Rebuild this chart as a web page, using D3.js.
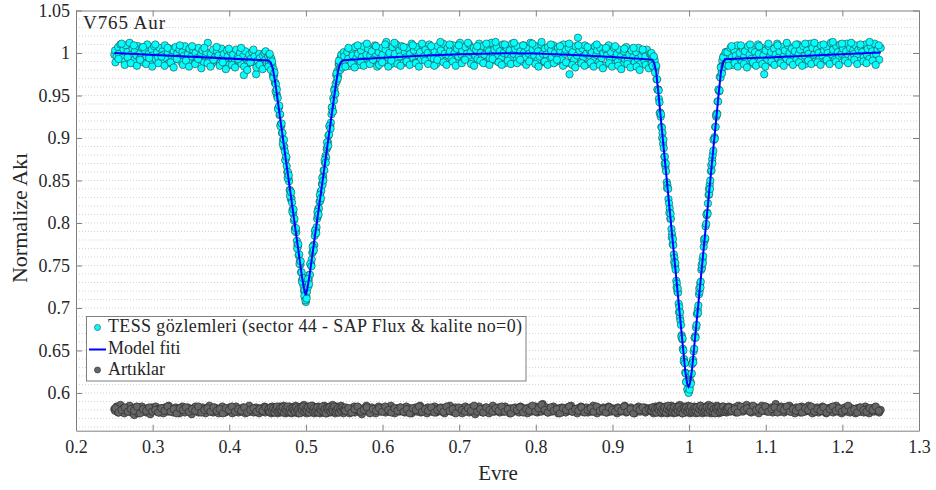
<!DOCTYPE html>
<html>
<head>
<meta charset="utf-8">
<script src="https://cdn.jsdelivr.net/npm/d3@7"></script>
<style>
  body { margin: 0; background: #fff; }
  text { font-family: "Liberation Serif", "Times New Roman", serif; fill: #262626; }
</style>
</head>
<body>
<svg id="chart" width="936" height="490"></svg>
<script>
// axis ticks
const xTicks = [0.2, 0.3, 0.4, 0.5, 0.6, 0.7, 0.8, 0.9, 1, 1.1, 1.2, 1.3];
const yTicks = [0.6, 0.65, 0.7, 0.75, 0.8, 0.85, 0.9, 0.95, 1, 1.05];

// model fit (phase, normalized flux)
const modelPhase = [0.25, 0.451, 0.454, 0.457, 0.46, 0.495, 0.4975, 0.4997, 0.5019, 0.5044, 0.5394, 0.5424, 0.5454, 0.5484,
  0.6, 0.65, 0.7, 0.76, 0.8, 0.85, 0.9, 0.952, 0.9545, 0.957, 0.96, 0.995, 0.9975, 0.9993, 1.0011, 1.0036, 1.0386, 1.0416, 1.0441, 1.0466, 1.25];
const modelFlux = [1.0, 0.9912, 0.989, 0.981, 0.965, 0.7361, 0.723, 0.715, 0.723, 0.7361, 0.965, 0.981, 0.989, 0.9915,
  0.9945, 0.9968, 0.9985, 0.9996, 0.9995, 0.9976, 0.9952, 0.9922, 0.988, 0.978, 0.9523, 0.6257, 0.611, 0.6074, 0.611, 0.6257, 0.9523, 0.978, 0.988, 0.9926, 1.0005];

// TESS points: [phase, flux, residual shifted to 0.58]
const outA = [
[0.250,0.998,0.581],[0.251,1.003,0.579],[0.253,0.996,0.584],[0.255,1.007,0.577],[0.256,0.999,0.580],[0.258,1.010,0.586],[0.260,0.994,0.578],[0.262,1.004,0.582],[0.263,0.990,0.576],[0.265,1.009,0.580],
[0.267,1.001,0.583],[0.269,0.995,0.579],[0.270,1.012,0.585],[0.272,0.998,0.577],[0.274,1.005,0.581],[0.276,0.992,0.574],[0.277,1.002,0.583],[0.279,0.997,0.580],[0.281,1.008,0.576],[0.283,0.993,0.582],
[0.284,1.000,0.579],[0.286,1.006,0.584],[0.288,0.989,0.578],[0.290,1.003,0.580],[0.292,0.996,0.577],[0.293,1.010,0.582],[0.295,0.999,0.581],[0.297,0.991,0.575],[0.299,1.004,0.583],[0.300,0.997,0.579],
[0.302,1.008,0.580],[0.304,0.993,0.584],[0.306,1.001,0.578],[0.307,0.995,0.581],[0.309,1.006,0.577],[0.311,0.990,0.582],[0.313,1.002,0.579],[0.314,0.998,0.576],[0.316,1.009,0.583],[0.318,0.994,0.580],
[0.320,1.000,0.578],[0.321,0.988,0.585],[0.323,1.005,0.579],[0.325,0.996,0.581],[0.327,1.003,0.577],[0.328,0.992,0.580],[0.330,1.007,0.583],[0.332,0.999,0.578],[0.334,0.994,0.582],[0.335,1.004,0.576],
[0.337,0.990,0.580],[0.339,1.001,0.584],[0.341,0.997,0.579],[0.342,1.008,0.577],[0.344,0.993,0.581],[0.346,0.999,0.583],[0.348,1.005,0.578],[0.349,0.991,0.580],[0.351,0.996,0.575],[0.353,1.003,0.582],
[0.355,0.988,0.579],[0.356,1.000,0.584],[0.358,0.994,0.580],[0.360,1.006,0.577],[0.362,0.992,0.581],[0.363,0.998,0.578],[0.365,1.003,0.583],[0.367,0.989,0.579],[0.369,0.996,0.576],[0.370,1.001,0.582],
[0.372,1.012,0.580],[0.374,0.993,0.585],[0.376,0.999,0.578],[0.377,0.987,0.581],[0.379,1.004,0.577],[0.381,0.995,0.583],[0.383,0.991,0.579],[0.384,1.002,0.580],[0.386,0.997,0.576],[0.388,0.988,0.582],
[0.390,1.005,0.578],[0.391,0.994,0.584],[0.393,0.999,0.580],[0.395,0.990,0.577],[0.397,1.003,0.581],[0.398,0.996,0.579],[0.400,0.986,0.583],[0.402,1.001,0.578],[0.404,0.993,0.576],[0.405,0.998,0.582],
[0.407,0.989,0.580],[0.409,1.004,0.584],[0.411,0.995,0.579],[0.412,0.991,0.577],[0.414,1.000,0.581],[0.416,0.987,0.578],[0.418,0.996,0.583],[0.419,0.974,0.580],[0.421,1.002,0.576],[0.423,0.992,0.582],
[0.425,0.988,0.579],[0.426,0.998,0.585],[0.428,0.993,0.578],[0.430,1.001,0.581],[0.432,0.989,0.577],[0.433,0.996,0.580],[0.435,0.975,0.583],[0.437,0.991,0.579],[0.439,0.999,0.576],[0.440,0.994,0.582],
[0.442,0.987,0.580],[0.444,0.997,0.578],[0.446,1.000,0.584],[0.447,0.992,0.577],[0.449,0.988,0.581],
[0.2515,0.989,0.582],[0.2555,0.993,0.577],[0.2595,1.011,0.580],[0.2635,0.986,0.583],[0.2675,0.995,0.578],[0.2715,0.988,0.581],[0.2755,1.009,0.579],[0.2795,0.985,0.584],[0.2835,0.992,0.576],[0.2875,1.007,0.581],
[0.2915,0.987,0.579],[0.2955,0.994,0.583],[0.2995,0.984,0.578],[0.3035,1.010,0.580],[0.3075,0.988,0.577],[0.3115,0.996,0.582],[0.3155,0.985,0.579],[0.3195,1.006,0.584],[0.3235,0.989,0.578],[0.3275,0.983,0.581],
[0.3315,0.993,0.576],[0.3355,1.009,0.582],[0.3395,0.986,0.580],[0.3435,0.991,0.583],[0.3475,0.984,0.578],[0.3515,1.008,0.581],[0.3555,0.987,0.579],[0.3595,0.993,0.584],[0.3635,0.982,0.577],[0.3675,1.006,0.580],
[0.3715,0.988,0.582],[0.3755,0.984,0.578],[0.3795,0.992,0.583],[0.3835,1.007,0.579],[0.3875,0.985,0.581],[0.3915,0.989,0.576],[0.3955,0.981,0.582],[0.3995,1.005,0.580],[0.4035,0.986,0.584],[0.4075,0.983,0.578],
[0.4115,0.993,0.581],[0.4155,1.006,0.579],[0.4195,0.984,0.583],[0.4235,0.980,0.577],[0.4275,0.989,0.580],[0.4315,1.004,0.582],[0.4355,0.983,0.578],[0.4395,0.986,0.581],[0.4435,0.981,0.579],[0.4475,1.002,0.583]];

const secondaryMin = [
[0.4508,0.996,0.579],[0.4516,0.988,0.582],[0.4523,0.998,0.578],[0.4531,0.984,0.583],[0.4540,0.991,0.580],[0.4547,0.994,0.576],[0.4555,0.981,0.581],[0.4563,0.986,0.584],[0.4570,0.974,0.579],[0.4578,0.981,0.577],
[0.4586,0.974,0.582],[0.4594,0.965,0.580],[0.4601,0.965,0.578],[0.4609,0.963,0.583],[0.4617,0.952,0.579],[0.4625,0.949,0.581],[0.4632,0.947,0.576],[0.4640,0.935,0.582],[0.4648,0.936,0.580],[0.4656,0.927,0.584],
[0.4664,0.928,0.578],[0.4671,0.916,0.581],[0.4679,0.914,0.577],[0.4687,0.906,0.583],[0.4695,0.906,0.580],[0.4702,0.898,0.579],[0.4710,0.889,0.585],[0.4718,0.890,0.578],[0.4726,0.884,0.581],[0.4734,0.874,0.576],
[0.4741,0.877,0.582],[0.4749,0.867,0.580],[0.4757,0.860,0.583],[0.4765,0.860,0.577],[0.4773,0.852,0.581],[0.4780,0.849,0.579],[0.4788,0.839,0.584],[0.4796,0.838,0.578],[0.4804,0.828,0.580],[0.4812,0.829,0.576],
[0.4819,0.824,0.582],[0.4827,0.816,0.579],[0.4835,0.811,0.583],[0.4843,0.803,0.580],[0.4851,0.805,0.577],[0.4858,0.794,0.581],[0.4866,0.792,0.585],[0.4874,0.789,0.578],[0.4882,0.779,0.582],[0.4890,0.774,0.579],
[0.4897,0.773,0.576],[0.4905,0.762,0.581],[0.4913,0.763,0.583],[0.4921,0.755,0.578],[0.4929,0.751,0.580],[0.4936,0.742,0.584],[0.4944,0.742,0.577],[0.4952,0.733,0.582],[0.4960,0.735,0.579],[0.4968,0.726,0.581],
[0.4975,0.720,0.586],[0.4983,0.721,0.578],[0.4991,0.712,0.583],[0.4999,0.707,0.580],[0.5006,0.714,0.576],[0.5014,0.719,0.582],[0.5022,0.728,0.579],[0.5030,0.725,0.584],[0.5037,0.733,0.578],[0.5045,0.739,0.581],
[0.5053,0.739,0.577],[0.5061,0.751,0.583],[0.5069,0.751,0.580],[0.5076,0.757,0.579],[0.5084,0.765,0.585],[0.5092,0.766,0.578],[0.5100,0.774,0.581],[0.5108,0.774,0.576],[0.5115,0.785,0.582],[0.5123,0.791,0.580],
[0.5131,0.792,0.583],[0.5139,0.795,0.577],[0.5147,0.805,0.581],[0.5154,0.808,0.579],[0.5162,0.817,0.584],[0.5170,0.817,0.578],[0.5178,0.825,0.580],[0.5186,0.826,0.576],[0.5193,0.837,0.582],[0.5201,0.838,0.579],
[0.5209,0.846,0.583],[0.5217,0.845,0.580],[0.5225,0.855,0.577],[0.5232,0.862,0.581],[0.5240,0.862,0.585],[0.5248,0.871,0.578],[0.5256,0.879,0.582],[0.5264,0.877,0.579],[0.5271,0.887,0.576],[0.5279,0.889,0.581],
[0.5287,0.895,0.583],[0.5295,0.903,0.578],[0.5303,0.904,0.580],[0.5310,0.914,0.584],[0.5318,0.914,0.577],[0.5326,0.918,0.582],[0.5334,0.928,0.579],[0.5342,0.936,0.581],[0.5349,0.932,0.586],[0.5357,0.947,0.578],
[0.5365,0.944,0.583],[0.5373,0.958,0.580],[0.5381,0.952,0.576],[0.5388,0.964,0.582],[0.5396,0.974,0.579],[0.5404,0.967,0.584],[0.5412,0.979,0.578],[0.5420,0.973,0.581],[0.5427,0.987,0.577],[0.5435,0.986,0.583],
[0.5443,0.982,0.580],[0.5451,0.994,0.579],[0.5459,0.986,0.585],[0.5466,0.997,0.578],[0.5474,0.986,0.582],[0.5482,0.995,0.579],[0.5490,0.990,0.576],
[0.4512,0.984,0.581],[0.4527,0.999,0.578],[0.4543,0.980,0.583],[0.4559,0.990,0.579],[0.4574,0.971,0.582],[0.4590,0.977,0.577],[0.4605,0.955,0.581],[0.4621,0.957,0.584],[0.4636,0.934,0.578],[0.4652,0.938,0.580],
[0.4667,0.914,0.582],[0.4683,0.917,0.579],[0.4698,0.893,0.583],[0.4714,0.898,0.577],[0.4730,0.874,0.581],[0.4745,0.878,0.579],[0.4761,0.853,0.584],[0.4777,0.856,0.578],[0.4792,0.832,0.581],[0.4808,0.836,0.577],
[0.4823,0.813,0.582],[0.4839,0.816,0.580],[0.4855,0.791,0.578],[0.4870,0.794,0.583],[0.4886,0.770,0.579],[0.4901,0.775,0.581],[0.4917,0.752,0.576],[0.4932,0.755,0.582],[0.4948,0.731,0.580],[0.4964,0.735,0.584],
[0.4979,0.714,0.578],[0.4995,0.709,0.581],[0.5010,0.711,0.579],[0.5026,0.734,0.583],[0.5041,0.728,0.577],[0.5057,0.752,0.581],[0.5073,0.749,0.585],[0.5088,0.772,0.579],[0.5104,0.768,0.582],[0.5119,0.791,0.578],
[0.5135,0.788,0.580],[0.5150,0.813,0.583],[0.5166,0.810,0.577],[0.5182,0.833,0.581],[0.5197,0.829,0.579],[0.5213,0.853,0.584],[0.5228,0.850,0.578],[0.5244,0.874,0.581],[0.5260,0.871,0.576],[0.5275,0.895,0.582],
[0.5291,0.891,0.580],[0.5306,0.914,0.583],[0.5322,0.911,0.578],[0.5338,0.936,0.581],[0.5353,0.931,0.579],[0.5369,0.956,0.584],[0.5384,0.952,0.578],[0.5400,0.976,0.580],[0.5416,0.970,0.582],[0.5431,0.991,0.577],
[0.5447,0.980,0.581],[0.5462,0.998,0.579],[0.5478,0.983,0.583],[0.5494,1.001,0.580]];

const outB = [
[0.550,0.996,0.580],[0.552,0.987,0.583],[0.554,1.001,0.578],[0.555,0.993,0.581],[0.557,0.985,0.576],[0.559,1.004,0.582],[0.561,0.997,0.579],[0.563,0.990,0.584],[0.564,1.007,0.577],[0.566,0.994,0.580],
[0.568,0.999,0.583],[0.570,0.986,0.578],[0.572,1.003,0.581],[0.573,0.995,0.575],[0.575,1.008,0.582],[0.577,0.991,0.580],[0.579,0.998,0.585],[0.581,1.005,0.578],[0.582,0.988,0.581],[0.584,0.997,0.577],
[0.586,1.002,0.583],[0.588,0.992,0.579],[0.590,1.009,0.580],[0.591,0.996,0.576],[0.593,0.984,0.582],[0.595,1.001,0.584],[0.597,0.993,0.578],[0.599,1.006,0.581],[0.600,0.998,0.579],[0.602,0.989,0.583],
[0.604,1.004,0.577],[0.605,1.013,0.580],[0.607,0.995,0.582],[0.609,1.000,0.578],[0.611,0.987,0.585],[0.613,1.007,0.579],[0.614,0.994,0.581],[0.616,0.999,0.576],[0.618,1.010,0.582],[0.620,0.991,0.580],
[0.622,1.003,0.578],[0.623,0.996,0.583],[0.625,1.008,0.579],[0.627,0.988,0.581],[0.629,1.001,0.577],[0.631,0.995,0.584],[0.632,1.006,0.580],[0.634,0.992,0.578],[0.636,0.999,0.582],[0.638,1.011,0.576],
[0.640,0.994,0.581],[0.641,1.003,0.579],[0.643,0.989,0.583],[0.645,1.007,0.578],[0.647,0.997,0.580],[0.649,1.001,0.585],[0.650,0.992,0.577],[0.652,1.009,0.582],[0.654,0.996,0.579],[0.656,1.004,0.581],
[0.658,0.990,0.576],[0.659,1.000,0.583],[0.661,1.010,0.580],[0.663,0.995,0.578],[0.665,1.005,0.582],[0.667,0.993,0.579],[0.668,1.002,0.584],[0.670,0.987,0.577],[0.672,1.008,0.581],[0.674,0.998,0.579],
[0.676,1.003,0.583],[0.677,0.994,0.578],[0.679,1.011,0.580],[0.681,0.999,0.576],[0.683,0.991,0.582],[0.685,1.006,0.579],[0.686,0.997,0.581],[0.688,1.002,0.585],[0.690,0.993,0.578],[0.692,1.009,0.580],
[0.694,1.000,0.577],[0.695,0.989,0.583],[0.697,1.005,0.579],[0.699,0.996,0.581],[0.701,1.012,0.578],[0.703,0.998,0.582],[0.704,1.003,0.576],[0.706,0.992,0.580],[0.708,1.007,0.584],[0.710,0.999,0.579],
[0.712,0.994,0.581],[0.713,1.010,0.577],[0.715,1.001,0.583],[0.717,0.990,0.578],[0.719,1.006,0.580],[0.721,0.997,0.575],[0.722,1.004,0.582],[0.724,0.993,0.579],[0.726,1.011,0.584],[0.728,1.000,0.578],
[0.730,0.995,0.581],[0.731,1.008,0.577],[0.733,0.998,0.580],[0.735,0.989,0.583],[0.737,1.005,0.579],[0.739,1.002,0.576],[0.740,0.994,0.582],[0.742,1.012,0.580],[0.744,0.999,0.585],[0.746,1.004,0.578],
[0.748,0.991,0.581],[0.749,1.007,0.579],[0.751,0.997,0.583],[0.753,1.002,0.577],[0.755,0.993,0.580],[0.757,1.010,0.582],[0.758,1.000,0.578],[0.760,0.988,0.584],[0.762,1.006,0.579],[0.764,0.998,0.581],
[0.766,1.003,0.576],[0.767,0.994,0.582],[0.769,1.011,0.580],[0.771,0.999,0.578],[0.773,1.005,0.583],[0.775,0.992,0.579],[0.776,1.008,0.581],[0.778,0.996,0.577],[0.780,1.002,0.584],[0.782,0.990,0.580],
[0.784,1.009,0.578],[0.785,1.001,0.582],[0.787,0.995,0.579],[0.789,1.006,0.576],[0.791,0.999,0.583],[0.793,1.012,0.580],[0.794,0.993,0.578],[0.796,1.004,0.581],[0.798,0.997,0.579],[0.800,1.008,0.584],
[0.802,0.991,0.577],[0.803,1.002,0.582],[0.805,0.996,0.580],[0.807,1.010,0.578],[0.809,0.999,0.587],[0.811,0.989,0.581],[0.812,1.005,0.579],[0.814,0.998,0.583],[0.816,1.007,0.577],[0.818,0.992,0.580],
[0.820,1.003,0.582],[0.821,0.995,0.578],[0.823,1.009,0.584],[0.825,1.000,0.579],[0.827,0.990,0.581],[0.829,1.006,0.576],[0.830,0.997,0.582],[0.832,1.002,0.580],[0.834,0.993,0.583],[0.836,1.010,0.578],
[0.838,0.999,0.581],[0.839,1.004,0.577],[0.841,0.988,0.583],[0.843,1.006,0.579],[0.844,0.975,0.580],[0.846,0.996,0.585],[0.848,1.001,0.578],[0.850,0.992,0.581],[0.852,1.008,0.579],[0.854,0.997,0.576],
[0.855,1.018,0.582],[0.857,1.003,0.580],[0.859,0.990,0.584],[0.861,1.005,0.578],[0.862,0.995,0.581],[0.864,1.009,0.579],[0.866,0.999,0.583],[0.868,0.987,0.577],[0.870,1.004,0.580],[0.871,0.996,0.582],
[0.873,1.001,0.578],[0.875,0.991,0.585],[0.877,1.008,0.579],[0.879,0.998,0.581],[0.880,1.003,0.576],[0.882,0.989,0.582],[0.884,1.006,0.580],[0.886,0.994,0.578],[0.888,1.000,0.583],[0.889,0.985,0.579],
[0.891,1.004,0.581],[0.893,0.997,0.577],[0.895,1.009,0.584],[0.897,0.992,0.580],[0.898,1.001,0.578],[0.900,0.987,0.582],[0.902,1.006,0.579],[0.904,0.995,0.581],[0.906,0.999,0.576],[0.907,0.990,0.583],
[0.909,1.004,0.580],[0.911,0.996,0.578],[0.913,0.986,0.582],[0.915,1.002,0.579],[0.916,0.993,0.585],[0.918,1.007,0.577],[0.920,0.991,0.581],[0.922,0.998,0.579],[0.924,0.984,0.583],[0.925,1.003,0.578],
[0.927,0.995,0.580],[0.929,0.989,0.576],[0.931,1.001,0.582],[0.933,0.993,0.580],[0.934,1.006,0.584],[0.936,0.987,0.578],[0.938,0.997,0.581],[0.940,1.002,0.579],[0.942,0.990,0.583],[0.943,0.996,0.577],
[0.945,1.004,0.580],[0.947,0.986,0.582],[0.949,0.999,0.579],
[0.5515,0.984,0.579],[0.5555,1.006,0.582],[0.5595,0.988,0.577],[0.5635,0.983,0.581],[0.5675,1.009,0.584],[0.5715,0.990,0.578],[0.5755,0.985,0.580],[0.5795,1.011,0.583],[0.5835,0.987,0.576],[0.5875,0.992,0.581],
[0.5915,1.008,0.579],[0.5955,0.986,0.582],[0.5995,0.989,0.578],[0.6035,1.010,0.584],[0.6075,0.984,0.580],[0.6115,0.991,0.577],[0.6155,1.012,0.582],[0.6195,0.987,0.579],[0.6235,0.985,0.583],[0.6275,1.007,0.578],
[0.6315,0.990,0.581],[0.6355,0.986,0.576],[0.6395,1.009,0.582],[0.6435,0.988,0.580],[0.6475,0.984,0.584],[0.6515,1.011,0.578],[0.6555,0.991,0.581],[0.6595,0.987,0.579],[0.6635,1.008,0.583],[0.6675,0.985,0.577],
[0.6715,0.992,0.580],[0.6755,1.013,0.582],[0.6795,0.989,0.578],[0.6835,0.986,0.584],[0.6875,1.010,0.579],[0.6915,0.990,0.581],[0.6955,0.985,0.576],[0.6995,1.009,0.583],[0.7035,0.988,0.580],[0.7075,0.992,0.578],
[0.7115,1.012,0.582],[0.7155,0.987,0.579],[0.7195,0.985,0.585],[0.7235,1.008,0.578],[0.7275,0.991,0.581],[0.7315,0.988,0.577],[0.7355,1.011,0.583],[0.7395,0.986,0.580],[0.7435,0.993,0.578],[0.7475,1.013,0.582],
[0.7515,0.989,0.579],[0.7555,0.986,0.584],[0.7595,1.010,0.578],[0.7635,0.991,0.581],[0.7675,0.987,0.576],[0.7715,1.012,0.582],[0.7755,0.988,0.580],[0.7795,0.992,0.583],[0.7835,1.009,0.577],[0.7875,0.986,0.581],
[0.7915,0.990,0.579],[0.7955,1.011,0.585],[0.7995,0.987,0.578],[0.8035,0.984,0.582],[0.8075,1.013,0.586],[0.8115,0.990,0.580],[0.8155,0.986,0.577],[0.8195,1.010,0.583],[0.8235,0.988,0.579],[0.8275,0.992,0.581],
[0.8315,1.008,0.576],[0.8355,0.985,0.582],[0.8395,0.989,0.580],[0.8435,1.011,0.584],[0.8475,0.986,0.578],[0.8515,0.983,0.581],[0.8555,1.009,0.579],[0.8595,0.988,0.583],[0.8635,0.985,0.577],[0.8675,1.007,0.580],
[0.8715,0.989,0.582],[0.8755,0.984,0.578],[0.8795,1.010,0.584],[0.8835,0.986,0.579],[0.8875,0.982,0.581],[0.8915,1.006,0.577],[0.8955,0.988,0.583],[0.8995,0.984,0.580],[0.9035,1.008,0.578],[0.9075,0.985,0.582],
[0.9115,0.981,0.579],[0.9155,1.005,0.584],[0.9195,0.987,0.578],[0.9235,0.983,0.581],[0.9275,1.006,0.576],[0.9315,0.984,0.582],[0.9355,0.980,0.580],[0.9395,1.004,0.583],[0.9435,0.986,0.579],[0.9475,0.982,0.581]];

const primaryMin = [
[0.9505,0.998,0.581],[0.9513,0.988,0.578],[0.9521,0.995,0.583],[0.9528,0.984,0.579],[0.9536,0.995,0.576],[0.9544,0.986,0.582],[0.9552,0.991,0.580],[0.9560,0.979,0.584],[0.9567,0.983,0.578],[0.9575,0.969,0.581],
[0.9583,0.969,0.577],[0.9591,0.957,0.583],[0.9599,0.957,0.580],[0.9606,0.946,0.579],[0.9614,0.942,0.585],[0.9622,0.930,0.578],[0.9630,0.925,0.581],[0.9638,0.913,0.576],[0.9645,0.912,0.582],[0.9653,0.906,0.580],
[0.9661,0.893,0.583],[0.9669,0.888,0.577],[0.9677,0.878,0.581],[0.9684,0.878,0.579],[0.9692,0.866,0.584],[0.9700,0.861,0.578],[0.9708,0.848,0.580],[0.9716,0.845,0.576],[0.9723,0.841,0.582],[0.9731,0.828,0.579],
[0.9739,0.823,0.583],[0.9747,0.817,0.580],[0.9755,0.805,0.577],[0.9762,0.805,0.581],[0.9770,0.793,0.585],[0.9778,0.787,0.578],[0.9786,0.775,0.582],[0.9794,0.774,0.579],[0.9801,0.763,0.576],[0.9809,0.759,0.581],
[0.9817,0.749,0.583],[0.9825,0.745,0.578],[0.9833,0.732,0.580],[0.9840,0.729,0.584],[0.9848,0.719,0.577],[0.9856,0.718,0.582],[0.9864,0.705,0.579],[0.9872,0.701,0.581],[0.9879,0.689,0.586],[0.9887,0.685,0.578],
[0.9895,0.680,0.583],[0.9903,0.668,0.580],[0.9911,0.663,0.576],[0.9918,0.652,0.582],[0.9926,0.650,0.579],[0.9934,0.640,0.584],[0.9942,0.636,0.578],[0.9950,0.624,0.581],[0.9957,0.623,0.577],[0.9965,0.613,0.583],
[0.9973,0.614,0.580],[0.9981,0.604,0.579],[0.9989,0.605,0.585],[0.9996,0.601,0.578],[1.0004,0.606,0.581],[1.0012,0.614,0.576],[1.0020,0.613,0.582],[1.0028,0.622,0.580],[1.0035,0.623,0.583],[1.0043,0.635,0.577],
[1.0051,0.639,0.581],[1.0059,0.649,0.579],[1.0067,0.652,0.584],[1.0074,0.665,0.578],[1.0082,0.667,0.580],[1.0090,0.677,0.576],[1.0098,0.680,0.582],[1.0106,0.693,0.579],[1.0113,0.698,0.583],[1.0121,0.703,0.580],
[1.0129,0.716,0.577],[1.0137,0.719,0.581],[1.0145,0.729,0.585],[1.0152,0.731,0.578],[1.0160,0.745,0.582],[1.0168,0.747,0.579],[1.0176,0.757,0.576],[1.0184,0.761,0.581],[1.0191,0.772,0.583],[1.0199,0.778,0.578],
[1.0207,0.781,0.580],[1.0215,0.796,0.584],[1.0223,0.799,0.577],[1.0230,0.809,0.582],[1.0238,0.812,0.579],[1.0246,0.823,0.581],[1.0254,0.833,0.586],[1.0262,0.834,0.578],[1.0269,0.845,0.583],[1.0277,0.850,0.580],
[1.0285,0.861,0.576],[1.0293,0.862,0.582],[1.0301,0.875,0.579],[1.0308,0.880,0.584],[1.0316,0.885,0.578],[1.0324,0.898,0.581],[1.0332,0.901,0.577],[1.0340,0.913,0.583],[1.0347,0.913,0.580],[1.0355,0.925,0.579],
[1.0363,0.929,0.585],[1.0371,0.943,0.578],[1.0379,0.943,0.581],[1.0386,0.956,0.576],[1.0394,0.955,0.582],[1.0402,0.972,0.580],[1.0410,0.971,0.583],[1.0418,0.984,0.577],[1.0425,0.978,0.581],[1.0433,0.991,0.579],
[1.0441,0.985,0.584],[1.0449,0.996,0.578],[1.0457,0.986,0.580],[1.0464,0.996,0.582],[1.0472,0.987,0.579],[1.0480,1.001,0.583],[1.0488,0.991,0.577],[1.0496,0.998,0.581],
[0.9509,1.000,0.579],[0.9525,0.985,0.583],[0.9540,0.996,0.578],[0.9556,0.977,0.581],[0.9571,0.985,0.577],[0.9587,0.957,0.582],[0.9603,0.956,0.580],[0.9618,0.929,0.584],[0.9634,0.928,0.578],[0.9649,0.900,0.581],
[0.9665,0.898,0.579],[0.9681,0.870,0.583],[0.9696,0.870,0.577],[0.9712,0.841,0.581],[0.9727,0.840,0.585],[0.9743,0.812,0.579],[0.9759,0.811,0.582],[0.9774,0.783,0.578],[0.9790,0.781,0.580],[0.9805,0.754,0.583],
[0.9821,0.753,0.577],[0.9837,0.724,0.581],[0.9852,0.723,0.579],[0.9868,0.695,0.584],[0.9883,0.695,0.578],[0.9899,0.666,0.581],[0.9915,0.664,0.576],[0.9930,0.637,0.582],[0.9946,0.635,0.580],[0.9961,0.613,0.583],
[0.9977,0.604,0.578],[0.9993,0.600,0.581],[1.0008,0.604,0.579],[1.0024,0.611,0.584],[1.0039,0.634,0.578],[1.0055,0.636,0.580],[1.0071,0.665,0.582],[1.0086,0.665,0.579],[1.0102,0.693,0.583],[1.0117,0.694,0.577],
[1.0133,0.723,0.581],[1.0149,0.724,0.585],[1.0164,0.751,0.579],[1.0180,0.753,0.582],[1.0195,0.781,0.578],[1.0211,0.782,0.580],[1.0227,0.810,0.583],[1.0242,0.811,0.577],[1.0258,0.840,0.581],[1.0273,0.840,0.579],
[1.0289,0.868,0.584],[1.0305,0.870,0.578],[1.0320,0.898,0.581],[1.0336,0.899,0.576],[1.0351,0.927,0.582],[1.0367,0.928,0.580],[1.0383,0.957,0.583],[1.0398,0.956,0.578],[1.0414,0.983,0.581],[1.0429,0.976,0.579],
[1.0445,0.995,0.584],[1.0461,0.984,0.578],[1.0476,1.001,0.580],[1.0492,0.986,0.582]];

const outC = [
[1.050,1.001,0.580],[1.052,0.990,0.584],[1.054,1.006,0.578],[1.056,0.995,0.582],[1.057,0.986,0.579],[1.059,1.003,0.583],[1.061,0.997,0.577],[1.063,1.009,0.581],[1.064,0.992,0.585],[1.066,1.000,0.579],
[1.068,0.988,0.582],[1.070,1.005,0.578],[1.072,0.996,0.583],[1.073,1.002,0.580],[1.075,0.991,0.586],[1.077,1.008,0.579],[1.079,0.998,0.582],[1.081,0.993,0.577],[1.082,1.004,0.584],[1.084,0.987,0.580],
[1.086,1.001,0.578],[1.088,0.995,0.583],[1.090,1.010,0.581],[1.091,0.999,0.576],[1.093,0.990,0.582],[1.095,1.006,0.585],[1.097,0.997,0.579],[1.098,0.975,0.581],[1.100,1.003,0.584],[1.102,0.992,0.578],
[1.104,1.008,0.582],[1.106,0.996,0.580],[1.107,1.001,0.583],[1.109,0.988,0.577],[1.111,1.005,0.581],[1.113,0.998,0.587],[1.115,1.011,0.579],[1.116,0.994,0.582],[1.118,1.002,0.578],[1.120,0.990,0.584],
[1.122,1.007,0.580],[1.124,0.997,0.577],[1.125,1.003,0.583],[1.127,0.993,0.579],[1.129,1.009,0.581],[1.131,1.000,0.585],[1.133,0.989,0.578],[1.134,1.005,0.582],[1.136,0.996,0.580],[1.138,1.002,0.576],
[1.140,0.992,0.583],[1.142,1.010,0.579],[1.143,0.999,0.581],[1.145,1.004,0.577],[1.147,0.994,0.584],[1.149,1.008,0.580],[1.151,0.997,0.578],[1.152,0.987,0.582],[1.154,1.003,0.579],[1.156,0.999,0.585],
[1.158,1.011,0.578],[1.160,0.995,0.581],[1.161,1.006,0.576],[1.163,0.998,0.582],[1.165,0.990,0.580],[1.167,1.004,0.583],[1.169,1.000,0.577],[1.170,0.993,0.581],[1.172,1.009,0.579],[1.174,0.997,0.584],
[1.176,1.003,0.578],[1.178,0.991,0.580],[1.179,1.007,0.576],[1.181,1.000,0.582],[1.183,0.995,0.579],[1.185,1.012,0.583],[1.187,0.998,0.580],[1.188,1.004,0.577],[1.190,0.992,0.581],[1.192,1.008,0.585],
[1.194,1.001,0.578],[1.196,0.996,0.582],[1.197,1.010,0.579],[1.199,0.999,0.576],[1.201,1.005,0.581],[1.203,0.993,0.583],[1.205,1.002,0.578],[1.206,1.011,0.580],[1.208,0.997,0.584],[1.210,1.006,0.577],
[1.212,0.994,0.582],[1.214,1.003,0.579],[1.215,0.999,0.581],[1.217,1.009,0.576],[1.219,0.996,0.582],[1.221,1.004,0.580],[1.223,0.991,0.583],[1.224,1.007,0.578],[1.226,1.001,0.581],[1.228,0.995,0.577],
[1.230,1.010,0.584],[1.232,0.998,0.579],[1.233,1.005,0.581],[1.235,0.993,0.576],[1.237,1.008,0.582],[1.239,1.002,0.580],[1.241,0.997,0.578],[1.242,1.011,0.583],[1.244,0.999,0.579],[1.246,1.004,0.581],
[1.248,0.992,0.577],[1.250,1.006,0.580],
[1.0515,0.985,0.583],[1.0555,1.008,0.579],[1.0595,0.988,0.581],[1.0635,0.984,0.577],[1.0675,1.009,0.584],[1.0715,0.987,0.580],[1.0755,0.983,0.582],[1.0795,1.010,0.578],[1.0835,0.989,0.585],[1.0875,0.985,0.580],
[1.0915,1.008,0.582],[1.0955,0.987,0.579],[1.0995,0.984,0.584],[1.1035,1.011,0.578],[1.1075,0.990,0.581],[1.1115,0.986,0.583],[1.1155,1.009,0.577],[1.1195,0.988,0.582],[1.1235,0.985,0.580],[1.1275,1.012,0.584],
[1.1315,0.990,0.578],[1.1355,0.986,0.581],[1.1395,1.010,0.579],[1.1435,0.989,0.583],[1.1475,0.985,0.577],[1.1515,1.011,0.582],[1.1555,0.991,0.580],[1.1595,0.987,0.584],[1.1635,1.012,0.578],[1.1675,0.989,0.581],
[1.1715,0.986,0.579],[1.1755,1.010,0.583],[1.1795,0.992,0.577],[1.1835,0.987,0.581],[1.1875,1.013,0.584],[1.1915,0.990,0.579],[1.1955,0.986,0.582],[1.1995,1.011,0.578],[1.2035,0.991,0.580],[1.2075,0.988,0.585],
[1.2115,1.012,0.579],[1.2155,0.992,0.581],[1.2195,0.987,0.577],[1.2235,1.010,0.583],[1.2275,0.990,0.580],[1.2315,0.988,0.578],[1.2355,1.013,0.582],[1.2395,0.991,0.580],[1.2435,0.986,0.584],[1.2475,1.009,0.579]];

const observations = [].concat(outA, secondaryMin, outB, primaryMin, outC);

const svg = d3.select("#chart");
const x = d3.scaleLinear().domain([0.2, 1.3]).range([76, 919]);
const y = d3.scaleLinear().domain([0.5556, 1.05]).range([430.7, 10.5]);
const fmt = d => String(+d.toFixed(2));

svg.append("rect").attr("x", 76).attr("y", 10.5).attr("width", 843).attr("height", 420.2).attr("fill", "#fff");

// minor grid (dotted, every 0.01)
svg.append("g").selectAll("line")
  .data(d3.range(56, 105).map(v => v / 100))
  .join("line")
  .attr("x1", 76).attr("x2", 919)
  .attr("y1", d => y(d)).attr("y2", d => y(d))
  .attr("stroke", "#c8c8c8").attr("stroke-width", 0.8)
  .attr("stroke-dasharray", "1,2");

// observations
svg.append("g").selectAll("circle")
  .data(observations)
  .join("circle")
  .attr("cx", d => x(d[0])).attr("cy", d => y(d[1]))
  .attr("r", 3.7)
  .attr("fill", "#00ffff").attr("stroke", "#264040").attr("stroke-width", 0.6);

// model line
const line = d3.line().x(d => x(d[0])).y(d => y(d[1]));
svg.append("path")
  .datum(modelPhase.map((p, i) => [p, modelFlux[i]]))
  .attr("d", line)
  .attr("fill", "none").attr("stroke", "#0000ff").attr("stroke-width", 2);

// residuals
svg.append("g").selectAll("circle")
  .data(observations)
  .join("circle")
  .attr("cx", d => x(d[0])).attr("cy", d => y(d[2]))
  .attr("r", 3.7)
  .attr("fill", "#666666").attr("stroke", "#262626").attr("stroke-width", 0.6);

// axes
function styleAxis(g) {
  g.selectAll(".domain").attr("stroke", "#808080");
  g.selectAll(".tick line").attr("stroke", "#808080");
  g.selectAll(".tick text").attr("font-size", 18).attr("fill", "#262626")
    .attr("font-family", "'Liberation Serif', 'Times New Roman', serif");
}
svg.append("g").attr("transform", "translate(0,430.7)")
  .call(d3.axisBottom(x).tickValues(xTicks).tickFormat(fmt).tickSizeInner(-6).tickSizeOuter(0).tickPadding(10))
  .call(styleAxis);
svg.append("g").attr("transform", "translate(0,10.5)")
  .call(d3.axisTop(x).tickValues(xTicks).tickFormat("").tickSizeInner(-6).tickSizeOuter(0))
  .call(styleAxis);
svg.append("g").attr("transform", "translate(76,0)")
  .call(d3.axisLeft(y).tickValues(yTicks).tickFormat(fmt).tickSizeInner(-6).tickSizeOuter(0).tickPadding(6))
  .call(styleAxis);
svg.append("g").attr("transform", "translate(919,0)")
  .call(d3.axisRight(y).tickValues(yTicks).tickFormat("").tickSizeInner(-6).tickSizeOuter(0))
  .call(styleAxis);

// labels
svg.append("text").attr("x", 83).attr("y", 29).attr("font-size", 19)
  .attr("textLength", 82).attr("lengthAdjust", "spacing").text("V765 Aur");
svg.append("text").attr("x", 498).attr("y", 480).attr("text-anchor", "middle").attr("font-size", 21).text("Evre");
svg.append("text").attr("transform", "translate(27,218) rotate(-90)").attr("text-anchor", "middle")
  .attr("font-size", 22).text("Normalize Akı");

// legend
const lg = svg.append("g");
lg.append("rect").attr("x", 86.5).attr("y", 316.5).attr("width", 439.5).attr("height", 64.5)
  .attr("fill", "#fff").attr("stroke", "#808080").attr("stroke-width", 1);
lg.append("circle").attr("cx", 97.5).attr("cy", 327.5).attr("r", 3)
  .attr("fill", "#00ffff").attr("stroke", "#264040").attr("stroke-width", 0.6);
lg.append("text").attr("x", 108).attr("y", 332).attr("font-size", 18)
  .attr("textLength", 414).attr("lengthAdjust", "spacing")
  .text("TESS gözlemleri (sector 44 - SAP Flux & kalite no=0)");
lg.append("line").attr("x1", 89).attr("x2", 106).attr("y1", 349.5).attr("y2", 349.5)
  .attr("stroke", "#0000ff").attr("stroke-width", 2);
lg.append("text").attr("x", 108).attr("y", 354).attr("font-size", 18).text("Model fiti");
lg.append("circle").attr("cx", 97.5).attr("cy", 370).attr("r", 3)
  .attr("fill", "#666666").attr("stroke", "#262626").attr("stroke-width", 0.6);
lg.append("text").attr("x", 108).attr("y", 375).attr("font-size", 18).text("Artıklar");
</script>
</body>
</html>
